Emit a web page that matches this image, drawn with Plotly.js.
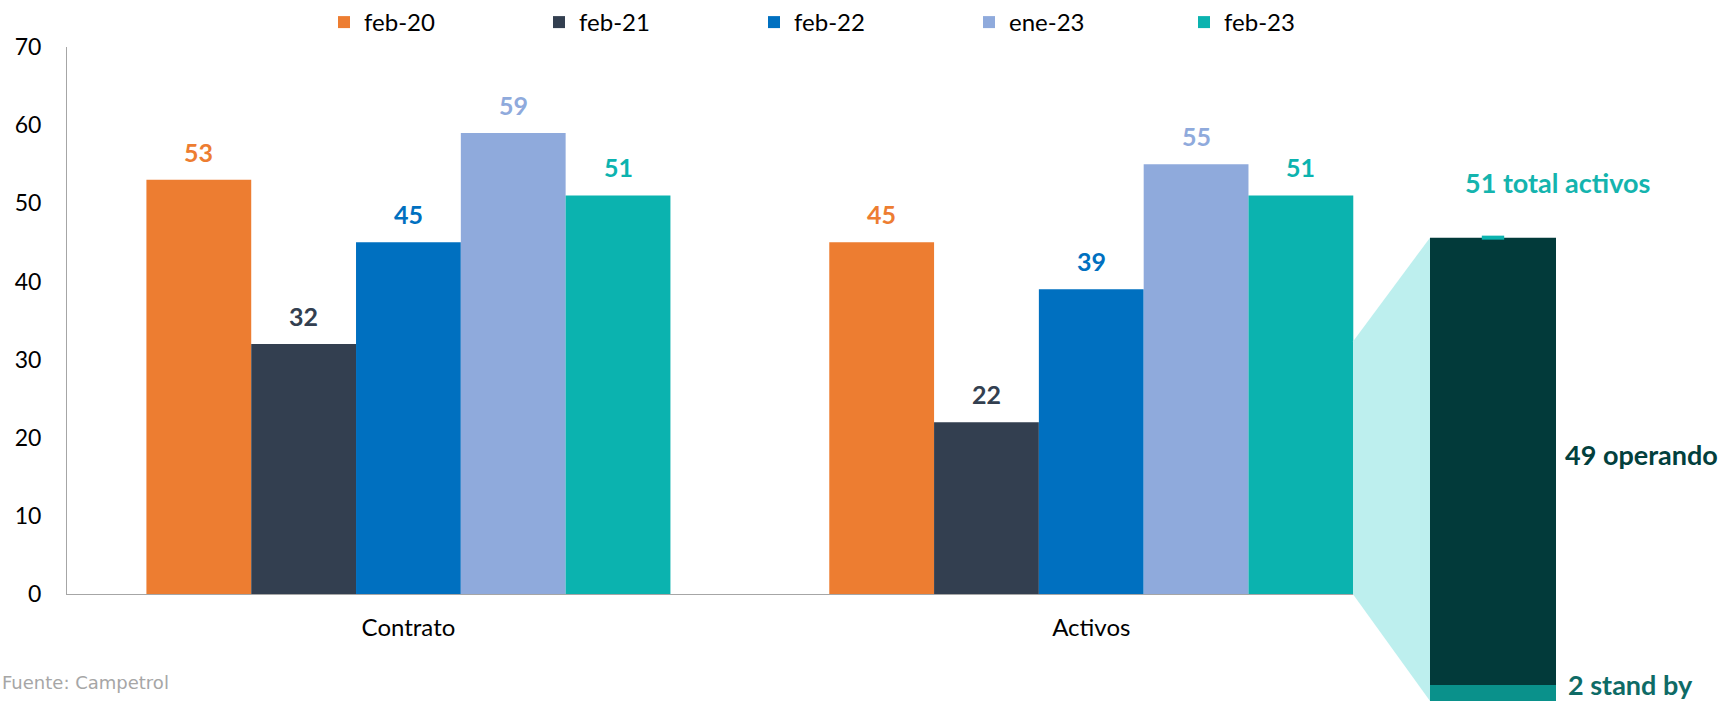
<!DOCTYPE html>
<html>
<head>
<meta charset="utf-8">
<script src="https://cdn.plot.ly/plotly-3.0.1.min.js"></script>
<style>
html,body{margin:0;padding:0;background:#fff;}
#chart{width:1724px;height:701px;}
</style>
</head>
<body>
<div id="chart"></div>
<script>
// ---- data ----
const categories = ["Contrato", "Activos"];
const seriesNames = ["feb-20", "feb-21", "feb-22", "ene-23", "feb-23"];
const seriesColors = ["#ED7D31", "#333F50", "#0070C0", "#8FAADC", "#0BB3AF"];
const feb20 = [53, 45];
const feb21 = [32, 22];
const feb22 = [45, 39];
const ene23 = [59, 55];
const feb23 = [51, 51];
const yTicks = [0, 10, 20, 30, 40, 50, 60, 70];

const breakdownCategory = ["feb-23"];
const operando = [49];
const standBy = [2];
const totalActivos = [operando[0] + standBy[0]];

const seriesValues = [feb20, feb21, feb22, ene23, feb23];

// ---- geometry ----
const W = 1724, H = 701;
const px = v => v / W;
const py = v => (H - v) / H;
const BARGAP = 0.2326;
const FONT = "Lato, 'Open Sans', sans-serif";

const traces = seriesNames.map((name, i) => ({
  type: "bar",
  name: name,
  x: categories,
  y: seriesValues[i],
  marker: { color: seriesColors[i] },
  xaxis: "x", yaxis: "y",
  hoverinfo: "skip"
}));

// right breakdown bar
traces.push({
  type: "bar", name: "stand by", x: breakdownCategory, y: standBy,
  marker: { color: "#0A918B" }, xaxis: "x2", yaxis: "y2",
  offsetgroup: "bd", showlegend: false, hoverinfo: "skip"
});
traces.push({
  type: "bar", name: "operando", x: breakdownCategory, y: operando, base: standBy,
  marker: { color: "#023A3A" }, xaxis: "x2", yaxis: "y2",
  offsetgroup: "bd", showlegend: false, hoverinfo: "skip"
});
traces.push({
  type: "scatter", mode: "markers", x: breakdownCategory, y: totalActivos,
  marker: { symbol: "line-ew", size: 16, line: { color: "#0BB3AF", width: 4 } },
  xaxis: "x2", yaxis: "y2", showlegend: false, hoverinfo: "skip", cliponaxis: false
});

// data labels
const bw = (1 - BARGAP) / seriesNames.length;
const annotations = [];
seriesValues.forEach((vals, i) => {
  vals.forEach((v, j) => {
    annotations.push({
      xref: "x", yref: "y",
      x: j + (i - (seriesNames.length - 1) / 2) * bw,
      y: v, yshift: 28, yanchor: "middle", xanchor: "center",
      text: String(v), showarrow: false,
      font: { family: FONT, size: 25, color: seriesColors[i], weight: 700 }
    });
  });
});

annotations.push({
  xref: "paper", yref: "paper", x: px(1557), y: py(182), xanchor: "center", yanchor: "middle",
  text: totalActivos[0] + " total activos", showarrow: false,
  font: { family: FONT, size: 27, color: "#14B4AE", weight: 700 }
});
annotations.push({
  xref: "paper", yref: "paper", x: px(1563), y: py(454), xanchor: "left", yanchor: "middle",
  text: operando[0] + " operando", showarrow: false,
  font: { family: FONT, size: 27, color: "#02403D", weight: 700 }
});
annotations.push({
  xref: "paper", yref: "paper", x: px(1566), y: py(684), xanchor: "left", yanchor: "middle",
  text: standBy[0] + " stand by", showarrow: false,
  font: { family: FONT, size: 27, color: "#0E6B66", weight: 700 }
});
annotations.push({
  xref: "paper", yref: "paper", x: 0, y: py(682), xanchor: "left", yanchor: "middle",
  text: "Fuente: Campetrol", showarrow: false,
  font: { family: "'DejaVu Sans', Verdana, sans-serif", size: 18, color: "#A6A6A6" }
});

const layout = {
  width: W, height: H,
  margin: { l: 0, r: 0, t: 0, b: 0 },
  paper_bgcolor: "#fff", plot_bgcolor: "rgba(0,0,0,0)",
  barmode: "group", bargap: BARGAP, bargroupgap: 0,
  showlegend: true,
  legend: {
    orientation: "h", x: px(324), y: py(22), xanchor: "left", yanchor: "middle",
    entrywidth: 170, entrywidthmode: "pixels",
    font: { family: FONT, size: 24, color: "#000" },
    traceorder: "normal"
  },
  xaxis: {
    domain: [px(67), px(1432.7)], range: [-0.5, 1.5],
    showline: true, linecolor: "#A6A6A6", linewidth: 1,
    showgrid: false, zeroline: false, ticks: "",
    tickfont: { family: FONT, size: 24, color: "#000" },
    ticklabelstandoff: 12, fixedrange: true
  },
  yaxis: {
    domain: [py(594), py(46)], range: [0, 70],
    tickvals: yTicks, ticktext: yTicks.map(String),
    showline: true, linecolor: "#A6A6A6", linewidth: 1,
    showgrid: false, zeroline: false, ticks: "",
    tickfont: { family: FONT, size: 23, color: "#000" },
    ticklabelstandoff: 20, fixedrange: true
  },
  xaxis2: {
    domain: [px(1493 - 82.1), px(1493 + 82.1)], anchor: "y2",
    visible: false, showgrid: false, zeroline: false, fixedrange: true
  },
  yaxis2: {
    domain: [0, py(154.7)], range: [0.25, 60], anchor: "x2",
    visible: false, showgrid: false, zeroline: false, fixedrange: true
  },
  shapes: [{
    type: "path", xref: "paper", yref: "paper", layer: "above",
    path: "M " + px(1353) + " " + py(341) + " L " + px(1430) + " " + py(237) +
          " L " + px(1430) + " " + py(701) + " L " + px(1353) + " " + py(594) + " Z",
    fillcolor: "#BDEFEE", line: { width: 0 }
  }],
  annotations: annotations
};

Plotly.newPlot("chart", traces, layout, { displayModeBar: false, staticPlot: true });
</script>
</body>
</html>
